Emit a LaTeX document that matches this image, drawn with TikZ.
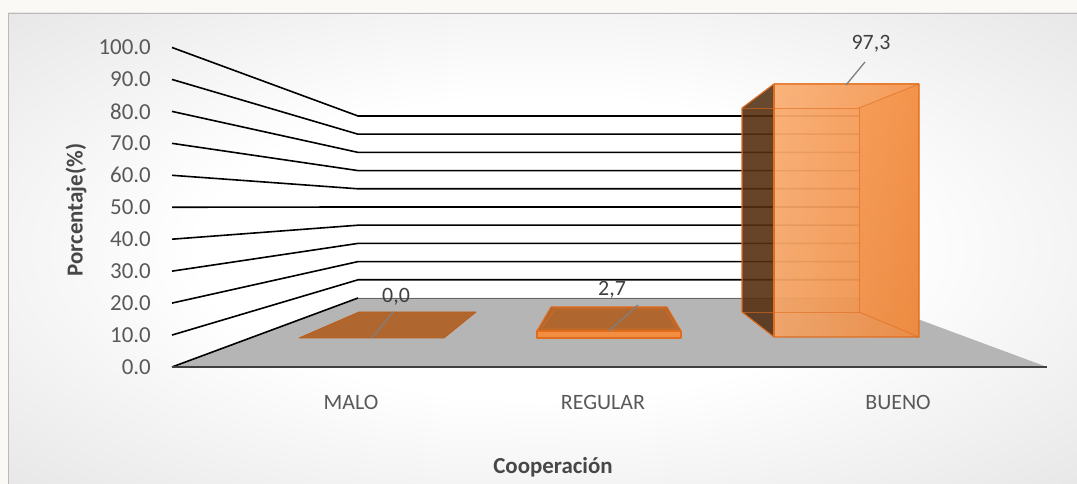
\documentclass[tikz,border=0pt]{standalone}
\usepackage{fontspec}
\setmainfont{Carlito}
\definecolor{topbg}{HTML}{FAF9F5}
\definecolor{bgout}{HTML}{C4C4C4}
\definecolor{bgmid}{HTML}{D6D6D6}
\definecolor{floorc}{HTML}{B5B5B5}
\definecolor{axisc}{HTML}{404040}
\definecolor{txt}{HTML}{595959}
\definecolor{lbl}{HTML}{404040}
\definecolor{barline}{HTML}{E06C1E}
\definecolor{barlight}{HTML}{FAAE72}
\definecolor{barmain}{HTML}{F38D42}
\definecolor{barside}{HTML}{F2903F}
\definecolor{bardark}{HTML}{4E2A0D}
\definecolor{barflat}{HTML}{B0672F}
\definecolor{leader}{HTML}{7F7F7F}
\pgfdeclareradialshading{chartbg}{\pgfpoint{0bp}{0bp}}{color(0bp)=(white); color(16bp)=(white); color(50bp)=(bgmid); color(71bp)=(bgout)}
\tikzset{
  grid/.style={black, line width=1.6bp},
  tick/.style={text=txt, font=\fontsize{23}{26}\selectfont, anchor=east, inner sep=0pt},
  cat/.style={text=txt, font=\fontsize{22}{26}\selectfont, inner sep=0pt},
  datalbl/.style={text=lbl, font=\fontsize{22}{26}\selectfont, inner sep=0pt},
  axtitle/.style={text=txt!80!black, font=\bfseries\fontsize{23}{26}\selectfont, inner sep=0pt},
  leadline/.style={leader, line width=1.3bp},
  baredge/.style={draw=barline, line width=1.1bp, line join=round},
}
\begin{document}
\begin{tikzpicture}[x=1bp,y=-1bp]
\useasboundingbox (0,0) rectangle (1077,484);
\fill[topbg] (0,0) rectangle (1077,484);
\shade[shading=chartbg] (8,13) rectangle (1077,484);
\draw[gray!55, line width=0.8bp] (8,484) -- (8,13) -- (1077,13);

% grid coordinates
\foreach \i in {0,...,10} {
  \coordinate (L\i) at (172, {367-31.95*\i});
  \coordinate (B\i) at (358, {298-18.2*\i});
  \coordinate (E\i) at (861, {298-18.2*\i});
}
\coordinate (F1) at (1047,367);

% back wall
\fill[white] (B0) rectangle (E10);
% floor
\fill[floorc] (L0) -- (F1) -- (E0) -- (B0) -- cycle;
\draw[gray!80!black, line width=0.8bp] (B0) -- (E0);
% grid lines
\foreach \i in {1,...,10} {
  \draw[grid] (L\i) -- (B\i) -- (E\i);
}
\draw[grid] (L0) -- (B0);
\draw[axisc, line width=2.8bp] (L0) -- (F1);

% tick labels
\foreach \i/\t in {0/0.0,1/10.0,2/20.0,3/30.0,4/40.0,5/50.0,6/60.0,7/70.0,8/80.0,9/90.0,10/100.0} {
  \node[tick] (t\i) at (151, {367-31.95*\i}) {\t};
}

% MALO bar (flat)
\coordinate (m1) at (299,338);
\coordinate (m2) at (444,338);
\coordinate (m3) at (476,312);
\coordinate (m4) at (359,312);
\filldraw[fill=barflat, draw=barline!85!black, line width=0.8bp, line join=round] (m1) -- (m2) -- (m3) -- (m4) -- cycle;
\node[datalbl] (d1) at (396,297) {0,0};
\coordinate (d1a) at (372,338);
\coordinate (d1b) at (393,312);
\draw[leadline] (d1a) -- (d1b);

% REGULAR bar
\coordinate (r1) at (537,338);
\coordinate (r2) at (681,338);
\coordinate (r3) at (681,331);
\coordinate (r4) at (537,331);
\coordinate (r5) at (551,307);
\coordinate (r6) at (667,307);
\filldraw[fill=barflat, baredge] (r4) -- (r3) -- (r6) -- (r5) -- cycle;
\draw[barline, line width=0.8bp, opacity=0.7] (r4) ++(4,-2) -- ++(136,0) -- ++(-12,-20) -- ++(-110,0) -- cycle;
\filldraw[fill=barmain, baredge] (r1) rectangle (r3);
\node[datalbl] (d2) at (612,290) {2,7};
\coordinate (d2a) at (609,331);
\coordinate (d2b) at (638,305);
\draw[leadline] (d2a) -- (d2b);

% BUENO bar
\coordinate (b1) at (742,108);
\coordinate (b2) at (859,108);
\coordinate (b3) at (859,312);
\coordinate (b4) at (742,312);
\coordinate (b5) at (774,84);
\coordinate (b6) at (919,84);
\coordinate (b7) at (919,337);
\coordinate (b8) at (774,337);
% back face (seen through)
\fill[barmain, opacity=0.3] (b1) rectangle (b3);
% left face
\fill[bardark, opacity=0.85] (b1) -- (b5) -- (b8) -- (b4) -- cycle;
% right face
\fill[barside, opacity=0.95] (b2) -- (b6) -- (b7) -- (b3) -- cycle;
% front face
\shade[left color=barlight, right color=barmain, opacity=0.9] (b5) rectangle (b7);
\shade[top color=barlight, bottom color=barmain!90!black, opacity=0.2] (b5) rectangle (b7);
% inner edges
\draw[barline, line width=0.9bp, opacity=0.6] (b1) -- (b2) -- (b3) -- (b4);
\draw[barline, line width=0.9bp, opacity=0.6] (b2) -- (b6);
\draw[barline, line width=0.9bp, opacity=0.6] (b3) -- (b7);
% outer edges
\draw[baredge] (b4) -- (b1) -- (b5) -- (b6) -- (b7) -- (b8) -- cycle;
\draw[baredge] (b5) -- (b8);
\node[datalbl] (d3) at (871,44) {97,3};
\coordinate (d3a) at (846,85);
\coordinate (d3b) at (865,62);
\draw[leadline] (d3a) -- (d3b);

% category labels
\node[cat] (c1) at (351,402) {MALO};
\node[cat] (c2) at (603,402) {REGULAR};
\node[cat] (c3) at (898,402) {BUENO};

% axis titles
\node[axtitle] (xt) at (553,467) {Cooperación};
\node[axtitle, rotate=90] (yt) at (76,210) {Porcentaje(\%)};
\end{tikzpicture}
\end{document}
